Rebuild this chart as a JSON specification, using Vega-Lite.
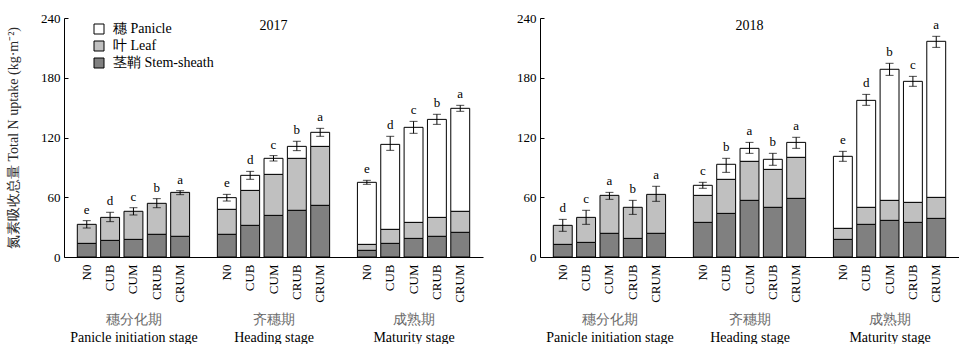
{
  "$schema": "https://vega.github.io/schema/vega-lite/v6.json",
  "padding": {"left": 6, "top": 12, "right": 0, "bottom": 0},
  "spacing": 33,
  "config": {
    "view": {"stroke": null},
    "font": "Liberation Serif",
    "axis": {"labelFont": "Liberation Serif", "titleFont": "Liberation Serif", "labelColor": "black", "titleColor": "#2a2a2a", "domainColor": "black", "tickColor": "black", "grid": false, "labelFontSize": 13, "titleFontSize": 14, "titleFontWeight": "normal"},
    "legend": {"labelFont": "Liberation Serif", "labelColor": "black"},
    "title": {"font": "Liberation Serif", "fontSize": 14, "fontWeight": "normal", "color": "black"}
  },
  "datasets": {
    "bars": [
      {"year": "2017", "id": "PI-N0", "stem": 13.7, "leaf_top": 32.8, "total": 32.8, "lo": 29.1, "hi": 36.5, "letter": "e"},
      {"year": "2017", "id": "PI-CUB", "stem": 16.7, "leaf_top": 39.8, "total": 39.8, "lo": 35.5, "hi": 44.9, "letter": "d"},
      {"year": "2017", "id": "PI-CUM", "stem": 17.7, "leaf_top": 45.9, "total": 45.9, "lo": 42.2, "hi": 49.5, "letter": "c"},
      {"year": "2017", "id": "PI-CRUB", "stem": 22.8, "leaf_top": 53.9, "total": 53.9, "lo": 49.5, "hi": 58.6, "letter": "b"},
      {"year": "2017", "id": "PI-CRUM", "stem": 20.8, "leaf_top": 64.9, "total": 64.9, "lo": 62.6, "hi": 66.6, "letter": "a"},
      {"year": "2017", "id": "H-N0", "stem": 22.8, "leaf_top": 47.9, "total": 59.6, "lo": 56.2, "hi": 62.9, "letter": "e"},
      {"year": "2017", "id": "H-CUB", "stem": 31.8, "leaf_top": 66.9, "total": 82.0, "lo": 78.0, "hi": 86.0, "letter": "d"},
      {"year": "2017", "id": "H-CUM", "stem": 41.8, "leaf_top": 83.0, "total": 99.1, "lo": 96.4, "hi": 101.8, "letter": "c"},
      {"year": "2017", "id": "H-CRUB", "stem": 46.9, "leaf_top": 99.1, "total": 111.1, "lo": 106.8, "hi": 116.2, "letter": "b"},
      {"year": "2017", "id": "H-CRUM", "stem": 51.9, "leaf_top": 111.1, "total": 125.2, "lo": 121.2, "hi": 129.2, "letter": "a"},
      {"year": "2017", "id": "M-N0", "stem": 6.7, "leaf_top": 12.7, "total": 75.0, "lo": 73.0, "hi": 77.0, "letter": "e"},
      {"year": "2017", "id": "M-CUB", "stem": 13.7, "leaf_top": 27.8, "total": 113.1, "lo": 107.1, "hi": 121.2, "letter": "d"},
      {"year": "2017", "id": "M-CUM", "stem": 18.7, "leaf_top": 34.8, "total": 130.2, "lo": 124.2, "hi": 136.2, "letter": "c"},
      {"year": "2017", "id": "M-CRUB", "stem": 20.8, "leaf_top": 39.8, "total": 138.2, "lo": 133.2, "hi": 143.3, "letter": "b"},
      {"year": "2017", "id": "M-CRUM", "stem": 24.8, "leaf_top": 45.9, "total": 149.3, "lo": 146.3, "hi": 152.3, "letter": "a"},
      {"year": "2018", "id": "PI-N0", "stem": 12.7, "leaf_top": 31.8, "total": 31.8, "lo": 25.8, "hi": 37.8, "letter": "d"},
      {"year": "2018", "id": "PI-CUB", "stem": 14.7, "leaf_top": 39.8, "total": 39.8, "lo": 32.8, "hi": 46.9, "letter": "c"},
      {"year": "2018", "id": "PI-CUM", "stem": 23.8, "leaf_top": 61.9, "total": 61.9, "lo": 57.9, "hi": 64.9, "letter": "a"},
      {"year": "2018", "id": "PI-CRUB", "stem": 18.7, "leaf_top": 49.9, "total": 49.9, "lo": 42.8, "hi": 56.9, "letter": "b"},
      {"year": "2018", "id": "PI-CRUM", "stem": 23.8, "leaf_top": 62.9, "total": 62.9, "lo": 55.9, "hi": 71.0, "letter": "a"},
      {"year": "2018", "id": "H-N0", "stem": 34.8, "leaf_top": 61.9, "total": 72.0, "lo": 69.0, "hi": 75.0, "letter": "c"},
      {"year": "2018", "id": "H-CUB", "stem": 43.8, "leaf_top": 78.0, "total": 93.1, "lo": 85.0, "hi": 99.1, "letter": "b"},
      {"year": "2018", "id": "H-CUM", "stem": 56.9, "leaf_top": 96.1, "total": 109.1, "lo": 104.1, "hi": 115.1, "letter": "a"},
      {"year": "2018", "id": "H-CRUB", "stem": 49.9, "leaf_top": 88.0, "total": 98.1, "lo": 92.1, "hi": 104.1, "letter": "b"},
      {"year": "2018", "id": "H-CRUM", "stem": 58.9, "leaf_top": 100.1, "total": 115.1, "lo": 109.1, "hi": 120.2, "letter": "a"},
      {"year": "2018", "id": "M-N0", "stem": 17.7, "leaf_top": 28.8, "total": 101.1, "lo": 96.1, "hi": 106.1, "letter": "e"},
      {"year": "2018", "id": "M-CUB", "stem": 32.8, "leaf_top": 49.9, "total": 157.3, "lo": 152.3, "hi": 163.3, "letter": "d"},
      {"year": "2018", "id": "M-CUM", "stem": 36.8, "leaf_top": 56.9, "total": 188.5, "lo": 182.4, "hi": 194.5, "letter": "b"},
      {"year": "2018", "id": "M-CRUB", "stem": 34.8, "leaf_top": 54.9, "total": 176.4, "lo": 171.4, "hi": 181.4, "letter": "c"},
      {"year": "2018", "id": "M-CRUM", "stem": 38.8, "leaf_top": 59.9, "total": 216.6, "lo": 210.5, "hi": 221.6, "letter": "a"}
    ],
    "stages": [{"stage": "PI"}, {"stage": "H"}, {"stage": "M"}]
  },
  "resolve": {"legend": {"color": "independent"}},
  "hconcat": [
    {
      "width": 419, "height": 239,
      "title": {"text": "2017", "offset": -21, "anchor": "middle"},
      "layer": [
        {
          "data": {"name": "bars"},
          "transform": [{"filter": "datum.year == '2017'"}],
          "encoding": {
            "x": {"field": "id", "type": "nominal",
              "scale": {"domain": ["PI-N0","PI-CUB","PI-CUM","PI-CRUB","PI-CRUM","G1","H-N0","H-CUB","H-CUM","H-CRUB","H-CRUM","G2","M-N0","M-CUB","M-CUM","M-CRUB","M-CRUM"], "paddingInner": 0.19, "paddingOuter": 0.57},
              "axis": {"orient": "bottom", "title": null, "labelAngle": -90, "labelAlign": "right", "labelBaseline": "middle", "labelExpr": "indexof(datum.value,'-') > 0 ? split(datum.value,'-')[1] : ''", "tickSize": -4, "labelPadding": 11, "tickOpacity": {"condition": {"test": "indexof(datum.value,'G') === 0", "value": 0}, "value": 1}}}
          },
          "layer": [
            {
              "mark": {"type": "bar", "stroke": "black", "strokeWidth": 1},
              "encoding": {
                "y": {"field": "stem", "type": "quantitative", "title": "氮素吸收总量 Total N uptake (kg·m⁻²)",
                  "scale": {"domain": [0, 240]},
                  "axis": {"values": [0, 60, 120, 180, 240], "tickSize": -4, "labelPadding": 8, "titlePadding": 20}},
                "color": {"datum": "Stem-sheath", "type": "nominal",
                  "scale": {"domain": ["Panicle", "Leaf", "Stem-sheath"], "range": ["#ffffff", "#c0c0c0", "#808080"]},
                  "legend": {"title": null, "orient": "none", "legendX": 28, "legendY": 4,
                    "labelExpr": "datum.label == 'Panicle' ? '穗 Panicle' : datum.label == 'Leaf' ? '叶 Leaf' : '茎鞘 Stem-sheath'",
                    "symbolType": "square", "symbolSize": 100, "symbolStrokeColor": "black", "symbolStrokeWidth": 1, "labelFontSize": 14, "labelOffset": 7, "rowPadding": 3}}
              }
            },
            {
              "mark": {"type": "bar", "stroke": "black", "strokeWidth": 1},
              "encoding": {
                "y": {"field": "stem", "type": "quantitative", "title": "氮素吸收总量 Total N uptake (kg·m⁻²)"},
                "y2": {"field": "leaf_top"},
                "color": {"datum": "Leaf", "type": "nominal"}
              }
            },
            {
              "transform": [{"filter": "datum.total > datum.leaf_top"}],
              "mark": {"type": "bar", "stroke": "black", "strokeWidth": 1},
              "encoding": {
                "y": {"field": "leaf_top", "type": "quantitative", "title": "氮素吸收总量 Total N uptake (kg·m⁻²)"},
                "y2": {"field": "total"},
                "color": {"datum": "Panicle", "type": "nominal"}
              }
            },
            {"mark": {"type": "rule", "color": "black", "strokeWidth": 1},
             "encoding": {"y": {"field": "lo", "type": "quantitative", "title": "氮素吸收总量 Total N uptake (kg·m⁻²)"}, "y2": {"field": "hi"}}},
            {"mark": {"type": "tick", "color": "black", "size": 8, "thickness": 1},
             "encoding": {"y": {"field": "hi", "type": "quantitative", "title": "氮素吸收总量 Total N uptake (kg·m⁻²)"}}},
            {"mark": {"type": "tick", "color": "black", "size": 8, "thickness": 1},
             "encoding": {"y": {"field": "lo", "type": "quantitative", "title": "氮素吸收总量 Total N uptake (kg·m⁻²)"}}},
            {"mark": {"type": "text", "dy": -7, "baseline": "alphabetic", "fontSize": 13, "font": "Liberation Serif", "fill": "black"},
             "encoding": {"y": {"field": "hi", "type": "quantitative", "title": "氮素吸收总量 Total N uptake (kg·m⁻²)"}, "text": {"field": "letter"}}}
          ]
        },
        {
          "data": {"name": "stages"},
          "mark": {"type": "point", "opacity": 0},
          "encoding": {
            "x": {"field": "stage", "type": "nominal",
              "scale": {"type": "point", "domain": ["PI", "H", "M"], "padding": 0.4964},
              "axis": {"orient": "bottom", "title": null, "offset": 55, "domain": false, "ticks": false, "labelPadding": 0, "labelAngle": 0, "labelFontSize": 14, "labelColor": "#6a6a6a",
                "labelExpr": "datum.value == 'PI' ? '穗分化期' : datum.value == 'H' ? '齐穗期' : '成熟期'"}}
          }
        },
        {
          "data": {"name": "stages"},
          "mark": {"type": "point", "opacity": 0},
          "encoding": {
            "x": {"field": "stage", "type": "nominal",
              "scale": {"type": "point", "domain": ["PI", "H", "M"], "padding": 0.4964},
              "axis": {"orient": "bottom", "title": null, "offset": 73, "domain": false, "ticks": false, "labelPadding": 0, "labelAngle": 0, "labelFontSize": 14, "labelColor": "black",
                "labelExpr": "datum.value == 'PI' ? 'Panicle initiation stage' : datum.value == 'H' ? 'Heading stage' : 'Maturity stage'"}}
          }
        }
      ],
      "resolve": {"scale": {"x": "independent"}, "axis": {"x": "independent"}}
    },
    {
      "width": 419, "height": 239,
      "title": {"text": "2018", "offset": -21, "anchor": "middle"},
      "layer": [
        {
          "data": {"name": "bars"},
          "transform": [{"filter": "datum.year == '2018'"}],
          "encoding": {
            "x": {"field": "id", "type": "nominal",
              "scale": {"domain": ["PI-N0","PI-CUB","PI-CUM","PI-CRUB","PI-CRUM","G1","H-N0","H-CUB","H-CUM","H-CRUB","H-CRUM","G2","M-N0","M-CUB","M-CUM","M-CRUB","M-CRUM"], "paddingInner": 0.19, "paddingOuter": 0.57},
              "axis": {"orient": "bottom", "title": null, "labelAngle": -90, "labelAlign": "right", "labelBaseline": "middle", "labelExpr": "indexof(datum.value,'-') > 0 ? split(datum.value,'-')[1] : ''", "tickSize": -4, "labelPadding": 11, "tickOpacity": {"condition": {"test": "indexof(datum.value,'G') === 0", "value": 0}, "value": 1}}}
          },
          "layer": [
            {
              "mark": {"type": "bar", "stroke": "black", "strokeWidth": 1},
              "encoding": {
                "y": {"field": "stem", "type": "quantitative", "title": null,
                  "scale": {"domain": [0, 240]},
                  "axis": {"values": [0, 60, 120, 180, 240], "tickSize": -4, "labelPadding": 8}},
                "color": {"datum": "Stem-sheath", "type": "nominal",
                  "scale": {"domain": ["Panicle", "Leaf", "Stem-sheath"], "range": ["#ffffff", "#c0c0c0", "#808080"]},
                  "legend": null}
              }
            },
            {
              "mark": {"type": "bar", "stroke": "black", "strokeWidth": 1},
              "encoding": {
                "y": {"field": "stem", "type": "quantitative", "title": null},
                "y2": {"field": "leaf_top"},
                "color": {"datum": "Leaf", "type": "nominal", "legend": null}
              }
            },
            {
              "transform": [{"filter": "datum.total > datum.leaf_top"}],
              "mark": {"type": "bar", "stroke": "black", "strokeWidth": 1},
              "encoding": {
                "y": {"field": "leaf_top", "type": "quantitative", "title": null},
                "y2": {"field": "total"},
                "color": {"datum": "Panicle", "type": "nominal", "legend": null}
              }
            },
            {"mark": {"type": "rule", "color": "black", "strokeWidth": 1},
             "encoding": {"y": {"field": "lo", "type": "quantitative", "title": null}, "y2": {"field": "hi"}}},
            {"mark": {"type": "tick", "color": "black", "size": 8, "thickness": 1},
             "encoding": {"y": {"field": "hi", "type": "quantitative", "title": null}}},
            {"mark": {"type": "tick", "color": "black", "size": 8, "thickness": 1},
             "encoding": {"y": {"field": "lo", "type": "quantitative", "title": null}}},
            {"mark": {"type": "text", "dy": -7, "baseline": "alphabetic", "fontSize": 13, "font": "Liberation Serif", "fill": "black"},
             "encoding": {"y": {"field": "hi", "type": "quantitative", "title": null}, "text": {"field": "letter"}}}
          ]
        },
        {
          "data": {"name": "stages"},
          "mark": {"type": "point", "opacity": 0},
          "encoding": {
            "x": {"field": "stage", "type": "nominal",
              "scale": {"type": "point", "domain": ["PI", "H", "M"], "padding": 0.4964},
              "axis": {"orient": "bottom", "title": null, "offset": 55, "domain": false, "ticks": false, "labelPadding": 0, "labelAngle": 0, "labelFontSize": 14, "labelColor": "#6a6a6a",
                "labelExpr": "datum.value == 'PI' ? '穗分化期' : datum.value == 'H' ? '齐穗期' : '成熟期'"}}
          }
        },
        {
          "data": {"name": "stages"},
          "mark": {"type": "point", "opacity": 0},
          "encoding": {
            "x": {"field": "stage", "type": "nominal",
              "scale": {"type": "point", "domain": ["PI", "H", "M"], "padding": 0.4964},
              "axis": {"orient": "bottom", "title": null, "offset": 73, "domain": false, "ticks": false, "labelPadding": 0, "labelAngle": 0, "labelFontSize": 14, "labelColor": "black",
                "labelExpr": "datum.value == 'PI' ? 'Panicle initiation stage' : datum.value == 'H' ? 'Heading stage' : 'Maturity stage'"}}
          }
        }
      ],
      "resolve": {"scale": {"x": "independent"}, "axis": {"x": "independent"}}
    }
  ]
}
